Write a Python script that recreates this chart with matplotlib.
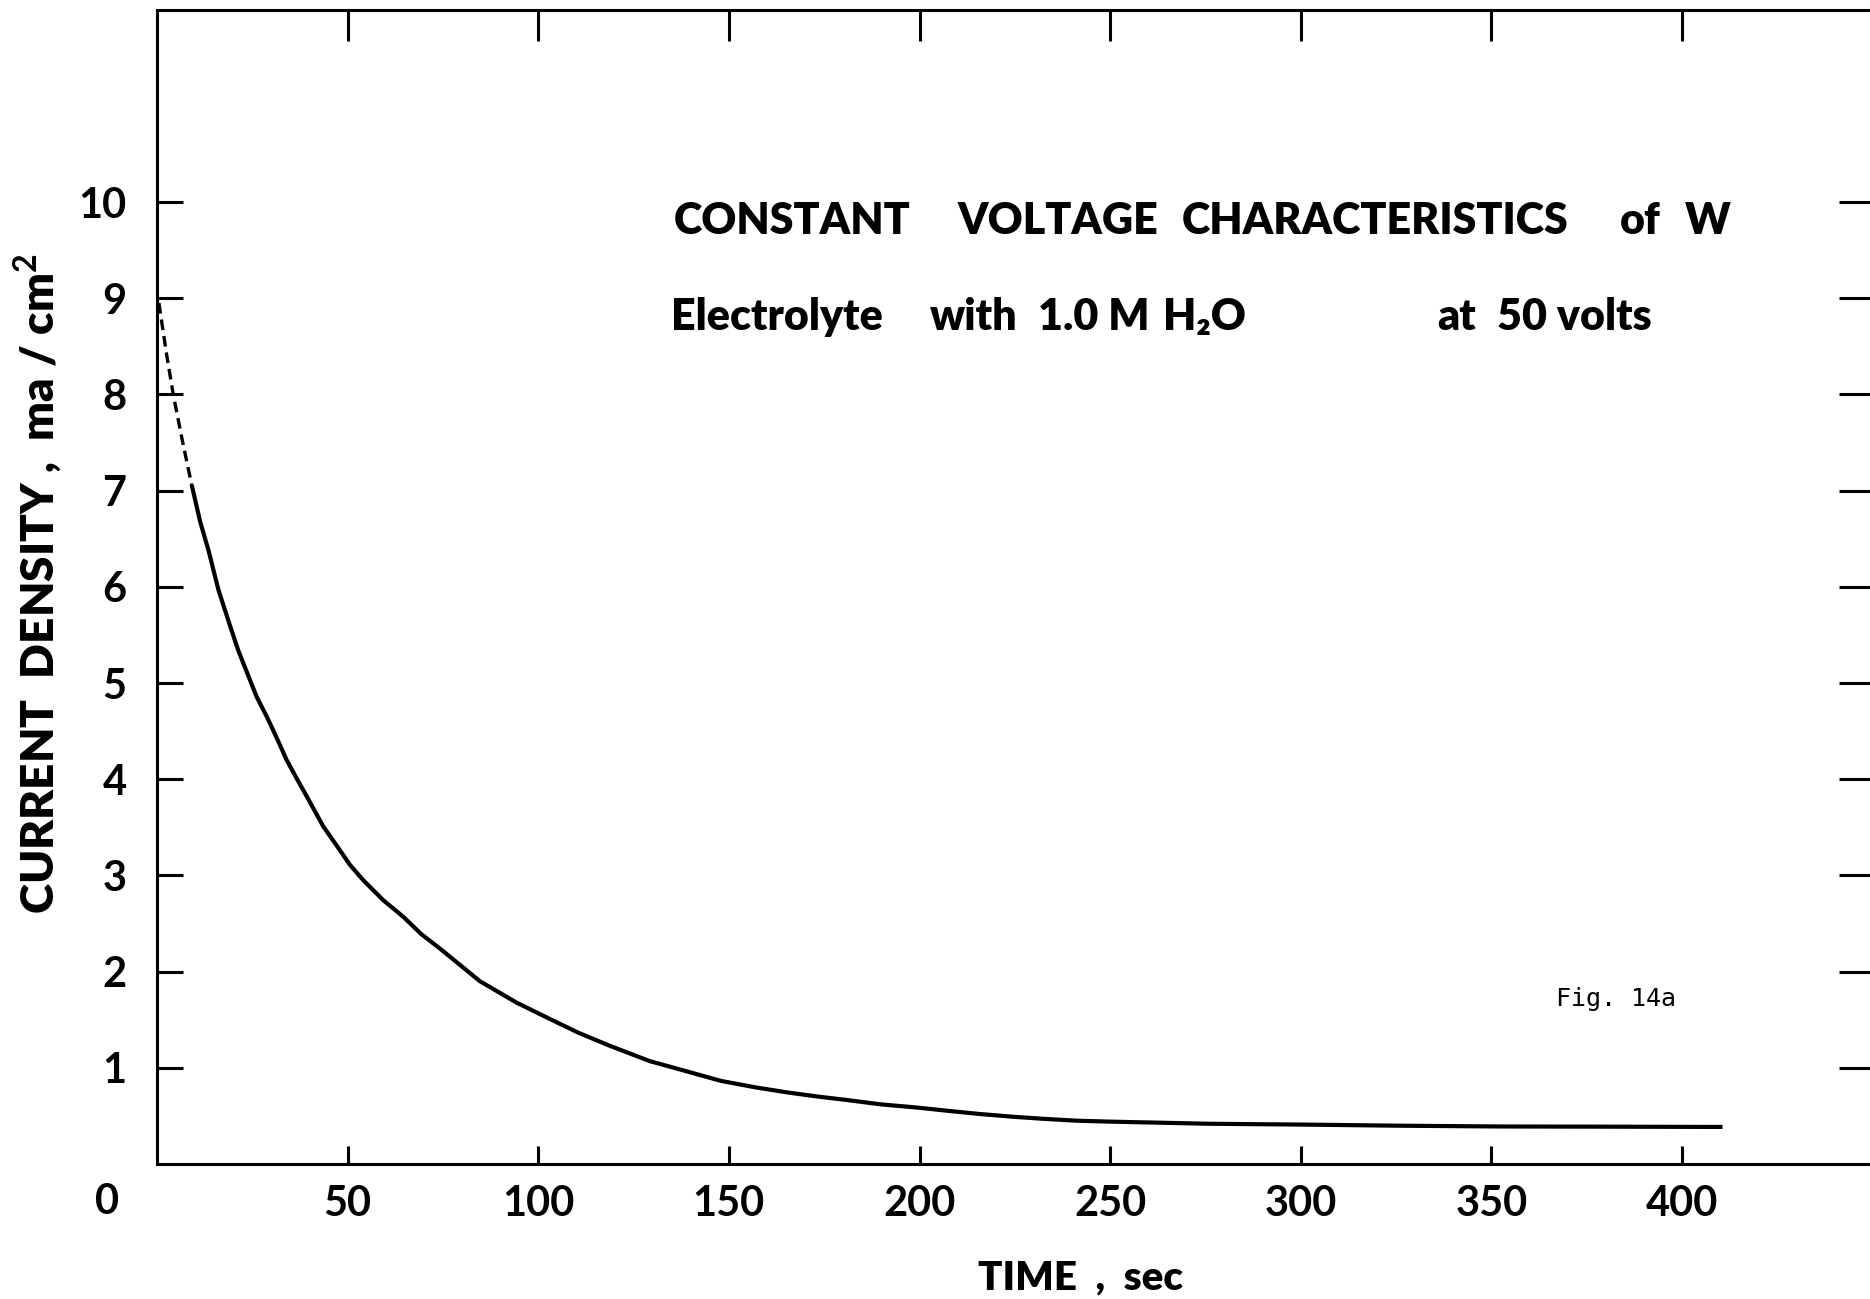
import matplotlib
matplotlib.use("Agg")
import matplotlib.pyplot as plt

# ---------------- data ----------------
x_ticks = [50, 100, 150, 200, 250, 300, 350, 400]
x_tick_labels = ["50", "100", "150", "200", "250", "300", "350", "400"]
y_ticks = [1, 2, 3, 4, 5, 6, 7, 8, 9, 10]
y_tick_labels = ["1", "2", "3", "4", "5", "6", "7", "8", "9", "10"]

# extrapolated (dashed) start of the curve
time_dashed = [0.5, 2.5, 4.3, 6.7, 9.1]
current_dashed = [8.95, 8.42, 7.99, 7.51, 7.06]

time_solid = [9.1, 11.3, 13.5, 16.1, 19.2, 21.3, 24.0, 26.1, 28.8, 31.4, 34.0,
              36.6, 39.3, 43.6, 48.0, 50.6, 54.1, 59.4, 64.6, 69.3, 74.2,
              84.7, 94.2, 102.4, 110.5, 118.7, 129.2, 138.5, 147.9, 157.2,
              165.5, 173.5, 180.6, 189.8, 199.3, 207.4, 215.7, 224.9, 233.2,
              241.3, 250.4, 276.4, 299.9, 325.9, 352.3, 381.2, 410.6]
current_solid = [7.06, 6.68, 6.38, 5.97, 5.59, 5.34, 5.07, 4.86, 4.65, 4.43, 4.20,
                 4.01, 3.82, 3.51, 3.26, 3.11, 2.95, 2.74, 2.57, 2.39, 2.24,
                 1.90, 1.68, 1.52, 1.365, 1.23, 1.07, 0.968, 0.864, 0.795,
                 0.743, 0.70, 0.667, 0.62, 0.587, 0.553, 0.52, 0.49, 0.468,
                 0.45, 0.44, 0.418, 0.41, 0.398, 0.39, 0.388, 0.385]

title_words = ["CONSTANT", "VOLTAGE", "CHARACTERISTICS", "of", "W"]
subtitle_words = ["Electrolyte", "with", "1.0 M", "H\u2082O", "at", "50 volts"]
x_label = "TIME  ,  sec"
y_label = "CURRENT  DENSITY ,  ma / cm$^{\\mathbf{2}}$"
fig_note = "Fig. 14a"

# ---------------- layout ----------------
W, H = 1870, 1299
FONT = ["Lato", "DejaVu Sans"]
plt.rcParams["font.family"] = FONT
plt.rcParams["mathtext.fontset"] = "custom"
plt.rcParams["mathtext.rm"] = "Lato:bold"
plt.rcParams["mathtext.bf"] = "Lato:bold"

fig = plt.figure(figsize=(W / 100, H / 100), dpi=100)
L, R, B, T = 157, 1870, 1164, 10
ax = fig.add_axes([L / W, 1 - B / H, (R - L) / W, (B - T) / H])
ax.set_xlim(0, 449.3)
ax.set_ylim(0, 11.996)

ax.plot(time_dashed, current_dashed, color="black", lw=2.4,
        linestyle=(0, (3.2, 1.8)), solid_capstyle="butt")
ax.plot(time_solid, current_solid, color="black", lw=3.0,
        solid_joinstyle="round", solid_capstyle="butt")

for side in ("left", "bottom", "top"):
    ax.spines[side].set_linewidth(2.2)
ax.spines["right"].set_visible(False)

ax.set_xticks(x_ticks)
ax.set_xticklabels(x_tick_labels)
ax.set_yticks(y_ticks)
ax.set_yticklabels(y_tick_labels)
ax.tick_params(axis="x", direction="in", length=13, width=2.2, pad=15,
               labelsize=30, top=False)
ax.tick_params(axis="y", direction="in", length=19, width=2.2, pad=22,
               labelsize=30, right=False)
for lab in ax.get_xticklabels() + ax.get_yticklabels():
    lab.set_fontweight("bold")

sec_x = ax.secondary_xaxis("top")
sec_x.set_xticks(x_ticks)
sec_x.tick_params(direction="in", length=22, width=2.2, labeltop=False)
for s in sec_x.spines.values():
    s.set_visible(False)

sec_y = ax.secondary_yaxis("right")
sec_y.set_yticks(y_ticks)
sec_y.tick_params(direction="in", length=22, width=2.2, labelright=False)
for s in sec_y.spines.values():
    s.set_visible(False)


def ftext(px, py, s, **kw):
    return fig.text(px / W, 1 - py / H, s, **kw)


# origin label
ftext(107, 1202, "0", ha="center", va="center", fontsize=30, fontweight="bold")

# title lines
title_x = [674, 958, 1182, 1620, 1685]
for x, w in zip(title_x, title_words):
    ftext(x, 234, w, ha="left", va="baseline", fontsize=31, fontweight="heavy")

sub_x = [671, 930, 1038, 1163, 1437, 1497]
for x, w in zip(sub_x, subtitle_words):
    ftext(x, 330, w, ha="left", va="baseline", fontsize=31, fontweight="heavy")

# axis labels
ftext(1081, 1290, x_label, ha="center", va="baseline", fontsize=29,
      fontweight="heavy")
ftext(38, 584, y_label, ha="center", va="center", rotation=90, fontsize=33,
      fontweight="heavy")

ftext(1556, 999, fig_note, ha="left", va="center", fontsize=18,
      family="DejaVu Sans Mono")

fig.savefig("out.png", dpi=100, facecolor="white")
